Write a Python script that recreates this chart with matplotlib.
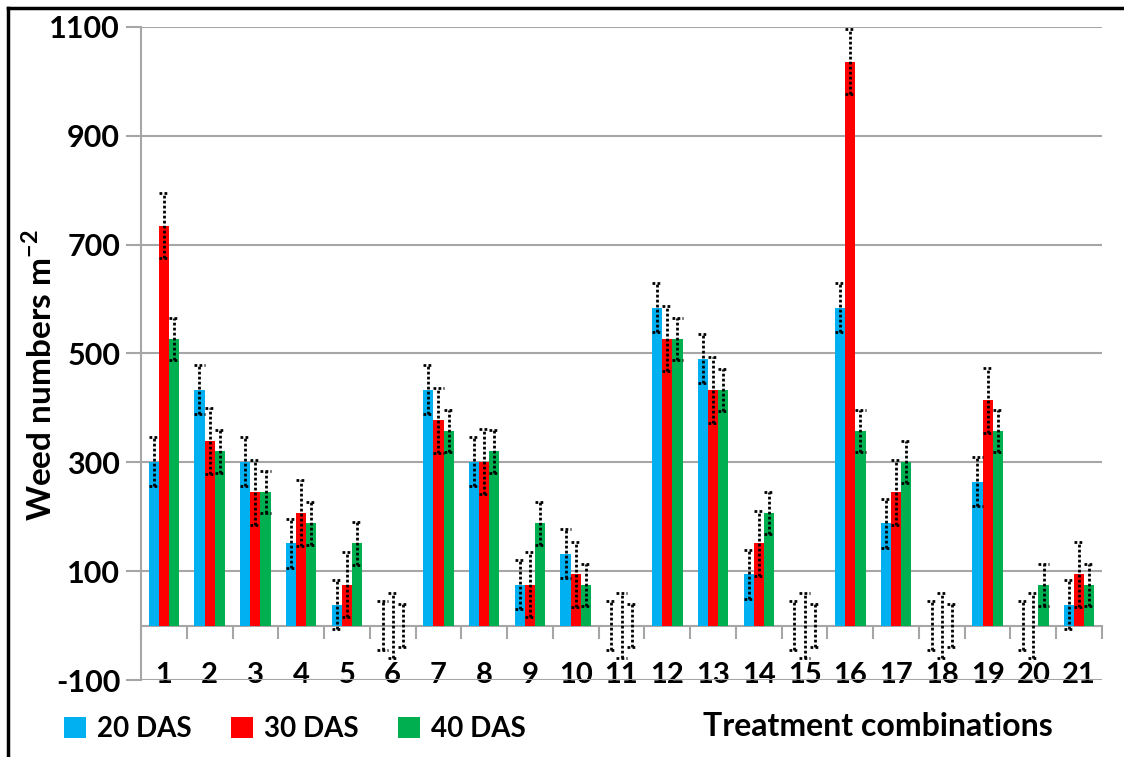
import numpy as np
import matplotlib
matplotlib.use('Agg')
import matplotlib.pyplot as plt
from matplotlib.patches import Patch
from matplotlib.lines import Line2D

plt.rcParams['font.family'] = ['Lato', 'DejaVu Sans']
plt.rcParams['font.weight'] = 'bold'
plt.rcParams['mathtext.fontset'] = 'custom'
plt.rcParams['mathtext.bf'] = 'Lato:bold'
plt.rcParams['mathtext.rm'] = 'Lato:bold'

treatments = [str(i) for i in range(1, 22)]
das20 = [301, 433, 301, 151, 38, 0, 433, 301, 75, 132, 0, 584, 490, 94, 0, 584, 188, 0, 264, 0, 38]
das30 = [735, 339, 245, 207, 75, 0, 377, 301, 75, 94, 0, 527, 433, 151, 0, 1036, 245, 0, 414, 0, 94]
das40 = [527, 320, 245, 188, 151, 0, 358, 320, 188, 75, 0, 527, 433, 207, 0, 358, 301, 0, 358, 75, 75]
err20, err30, err40 = 45, 60, 39
series_labels = ['20 DAS', '30 DAS', '40 DAS']
colors = ['#00B0F0', '#FF0000', '#00B050']
yticks = [-100, 100, 300, 500, 700, 900, 1100]

fig = plt.figure(figsize=(11.24, 7.57), dpi=100)
ax = fig.add_axes([141 / 1124, 1 - 680 / 757, 961 / 1124, 653 / 757])

x = np.arange(1, len(treatments) + 1)
w = 0.222
grid_c = '#A6A6A6'
dots = (0, (1, 0.8))

for i, (vals, err, col) in enumerate(zip([das20, das30, das40], [err20, err30, err40], colors)):
    pos = x + (i - 1) * w
    vals = np.array(vals)
    ax.bar(pos, vals, width=w, color=col, zorder=3)
    ax.vlines(pos, vals - err, vals + err, colors='black', linestyles=dots, linewidth=2.0, zorder=4)
    ax.hlines(vals - err, pos - w / 2, pos + w / 2, colors='black', linestyles=dots, linewidth=2.0, zorder=4)
    ax.hlines(vals + err, pos - w / 2, pos + w / 2, colors='black', linestyles=dots, linewidth=2.0, zorder=4)

ax.set_xlim(0.5, len(treatments) + 0.5)
ax.set_ylim(-100, 1100)
ax.set_yticks(yticks)
ax.set_yticklabels([str(t) for t in yticks], fontsize=22, fontweight='bold')
ax.yaxis.grid(True, color=grid_c, linewidth=1.5, zorder=0)
ax.tick_params(axis='y', direction='out', length=11, width=1.5, color=grid_c, pad=4)

ax.spines['top'].set_visible(False)
ax.spines['right'].set_visible(False)
ax.spines['left'].set_color(grid_c)
ax.spines['left'].set_linewidth(1.5)
ax.spines['bottom'].set_position(('data', 0))
ax.spines['bottom'].set_color(grid_c)
ax.spines['bottom'].set_linewidth(1.5)

ax.set_xticks(np.arange(0.5, len(treatments) + 1.5, 1.0))
ax.set_xticklabels([])
ax.tick_params(axis='x', which='major', direction='out', length=9, width=1.5, color=grid_c)
ax.set_xticks(x, minor=True)
ax.set_xticklabels(treatments, minor=True, fontsize=21, fontweight='bold')
ax.tick_params(axis='x', which='minor', length=0, pad=26)

ax.set_ylabel('Weed numbers m$^{\\mathbf{-2}}$', fontsize=24, fontweight='bold', va='center')
ax.yaxis.set_label_coords((40 - 141) / 961, 0.467)

handles = [Patch(facecolor=c, edgecolor='none') for c in colors]
fig.legend(handles, series_labels, loc='center left', bbox_to_anchor=(64 / 1124, 1 - 729 / 757),
           ncol=3, frameon=False, handlelength=0.8, handleheight=0.8, handletextpad=0.4,
           columnspacing=1.4, borderaxespad=0, borderpad=0,
           prop={'size': 20, 'weight': 'bold'})
fig.text(703 / 1124, 1 - 727 / 757, 'Treatment combinations', fontsize=23, fontweight='bold',
         ha='left', va='center')

fig.add_artist(Line2D([8 / 1124, 8 / 1124], [0, 1 - 8 / 757], color='black', linewidth=2.5))
fig.add_artist(Line2D([8 / 1124, 1], [1 - 8 / 757, 1 - 8 / 757], color='black', linewidth=2.5))

fig.savefig('out.png', dpi=100)
